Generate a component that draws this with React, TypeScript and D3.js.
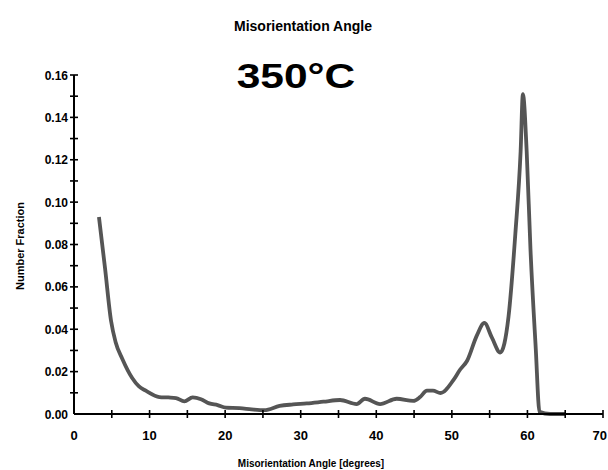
import React, { useEffect, useRef } from 'react'
import * as d3 from 'd3'

// misorientation angle (degrees) and number fraction
const angles = [3.3, 4.1, 4.9, 5.5, 6.4, 7.7, 8.6, 9.5, 11.3, 12.5, 13.5, 14.6, 15.7, 16.8, 17.9, 19.0, 20.1, 21.9, 23.5, 25.2, 27.2, 29.0, 30.8, 33.0, 35.2, 37.4, 38.5, 40.5, 42.7, 44.9, 45.8, 46.7, 47.5, 48.5, 50.2, 51.1, 52.0, 53.3, 54.3, 55.3, 56.4, 57.5, 58.4, 59.1, 59.4, 59.9, 60.4, 61.1, 61.6, 63.0, 65.0]
const fractions = [0.093, 0.069, 0.044, 0.034, 0.026, 0.017, 0.013, 0.011, 0.008, 0.0078, 0.0075, 0.006, 0.0078, 0.007, 0.005, 0.0042, 0.003, 0.0028, 0.0022, 0.0018, 0.0038, 0.0045, 0.005, 0.0058, 0.0066, 0.0047, 0.0072, 0.0047, 0.0072, 0.0062, 0.008, 0.011, 0.011, 0.0099, 0.016, 0.021, 0.025, 0.037, 0.043, 0.036, 0.029, 0.046, 0.085, 0.124, 0.151, 0.124, 0.078, 0.031, 0.001, 0, 0]

const xTicks = [0, 10, 20, 30, 40, 50, 60, 70]
const xMinor = [5, 15, 25, 35, 45, 55, 65]
const yTicks = [0, 0.02, 0.04, 0.06, 0.08, 0.1, 0.12, 0.14, 0.16]
const yMinor = [0.01, 0.03, 0.05, 0.07, 0.09, 0.11, 0.13, 0.15]

const title = 'Misorientation Angle'
const subtitle = '350\u00b0C'
const xLabel = 'Misorientation Angle [degrees]'
const yLabel = 'Number Fraction'

const font = '"Liberation Sans", Arial, sans-serif'

function App() {
  const ref = useRef<SVGSVGElement | null>(null)

  useEffect(() => {
    const svg = d3.select(ref.current)
    svg.selectAll('*').remove()

    const x = d3.scaleLinear().domain([0, 70]).range([74, 603])
    const y = d3.scaleLinear().domain([0, 0.16]).range([414, 75])

    svg
      .append('text')
      .attr('x', 303)
      .attr('y', 31)
      .attr('text-anchor', 'middle')
      .attr('font-family', font)
      .attr('font-weight', 'bold')
      .attr('font-size', 14)
      .text(title)

    svg
      .append('text')
      .attr('transform', 'translate(296, 88) scale(1.18, 1)')
      .attr('text-anchor', 'middle')
      .attr('font-family', font)
      .attr('font-weight', 'bold')
      .attr('font-size', 36)
      .text(subtitle)

    // data line
    const line = d3
      .line<number>()
      .x((d, i) => x(angles[i]))
      .y(d => y(d))
      .curve(d3.curveMonotoneX)

    svg
      .append('path')
      .datum(fractions)
      .attr('d', line)
      .attr('fill', 'none')
      .attr('stroke', '#555')
      .attr('stroke-width', 3.8)
      .attr('stroke-linejoin', 'round')

    // axes
    const axisG = svg.append('g').attr('stroke', '#000')
    axisG
      .append('line')
      .attr('x1', x(0))
      .attr('x2', x(70))
      .attr('y1', y(0))
      .attr('y2', y(0))
      .attr('stroke-width', 2)
    axisG
      .append('line')
      .attr('x1', x(0))
      .attr('x2', x(0))
      .attr('y1', y(0))
      .attr('y2', y(0.16))
      .attr('stroke-width', 2)

    axisG
      .selectAll('.xt')
      .data(xTicks.concat(xMinor).filter(d => d > 0))
      .enter()
      .append('line')
      .attr('x1', d => x(d))
      .attr('x2', d => x(d))
      .attr('y1', y(0) - 4)
      .attr('y2', y(0) + 4)
      .attr('stroke-width', 1.6)

    axisG
      .selectAll('.yt')
      .data(yTicks.concat(yMinor).filter(d => d > 0))
      .enter()
      .append('line')
      .attr('x1', x(0) - 4)
      .attr('x2', x(0) + 4)
      .attr('y1', d => y(d))
      .attr('y2', d => y(d))
      .attr('stroke-width', 1.6)

    svg
      .selectAll('.xl')
      .data(xTicks)
      .enter()
      .append('text')
      .attr('x', d => (d === 70 ? 607 : x(d)))
      .attr('y', 440)
      .attr('text-anchor', d => (d === 70 ? 'end' : 'middle'))
      .attr('font-family', font)
      .attr('font-weight', 'bold')
      .attr('font-size', 13)
      .text(d => d)

    svg
      .selectAll('.yl')
      .data(yTicks)
      .enter()
      .append('text')
      .attr('x', 68)
      .attr('y', d => y(d) + 4.5)
      .attr('text-anchor', 'end')
      .attr('font-family', font)
      .attr('font-weight', 'bold')
      .attr('font-size', 12)
      .text(d => d3.format('.2f')(d))

    svg
      .append('text')
      .attr('x', 311)
      .attr('y', 467)
      .attr('text-anchor', 'middle')
      .attr('font-family', font)
      .attr('font-weight', 'bold')
      .attr('font-size', 10)
      .text(xLabel)

    svg
      .append('text')
      .attr('transform', 'translate(24, 246) rotate(-90)')
      .attr('text-anchor', 'middle')
      .attr('font-family', font)
      .attr('font-weight', 'bold')
      .attr('font-size', 11)
      .text(yLabel)
  }, [])

  return (
    <svg
      ref={ref}
      width={608}
      height={470}
      style={{ position: 'absolute', left: 0, top: 0, background: '#fff' }}
    />
  )
}

export default App
